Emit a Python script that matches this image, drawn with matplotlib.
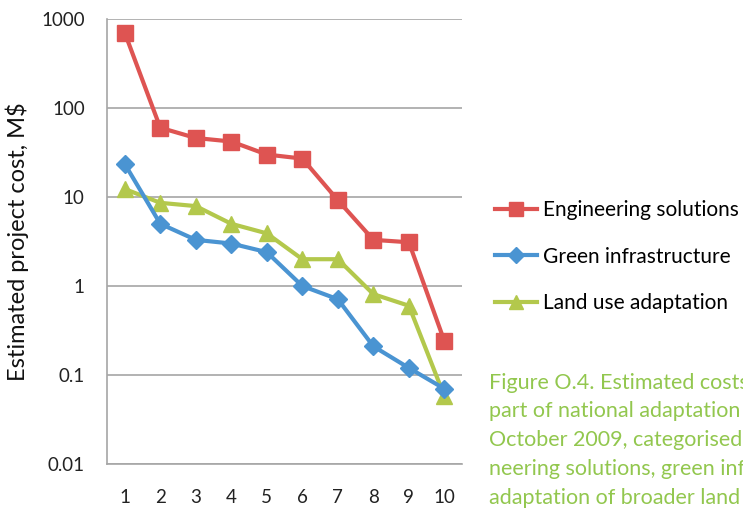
import matplotlib.pyplot as plt
from matplotlib.ticker import FixedLocator, FixedFormatter, NullLocator

plt.rcParams['font.family'] = ['Lato', 'DejaVu Sans']

# project rank on the x axis
projects = [1, 2, 3, 4, 5, 6, 7, 8, 9, 10]

# estimated cost, M$
engineering = [700, 60, 46, 42, 30, 27, 9.2, 3.3, 3.1, 0.24]
green_infra = [23.5, 5.0, 3.3, 3.0, 2.4, 1.0, 0.71, 0.21, 0.12, 0.07]
land_use = [12.3, 8.6, 7.9, 5.0, 3.9, 2.0, 2.0, 0.81, 0.6, 0.058]

y_ticks = [0.01, 0.1, 1, 10, 100, 1000]
y_tick_labels = ['0.01', '0.1', '1', '10', '100', '1000']

caption = ("Figure O.4. Estimated costs of projects proposed as\n"
           "part of national adaptation programmes of action as of\n"
           "October 2009, categorised into three groups: engi-\n"
           "neering solutions, green infrastructure, and\n"
           "adaptation of broader land use")

red = '#DE5452'
blue = '#4A94D2'
green = '#B3C84C'
grid_col = '#A6A6A6'

fig = plt.figure(figsize=(7.43, 5.09), dpi=100)
ax = fig.add_axes([0.144, 0.0884, 0.478, 0.8743])

ax.plot(projects, engineering, color=red, lw=3, marker='s', ms=12,
        label='Engineering solutions', zorder=3)
ax.plot(projects, green_infra, color=blue, lw=3, marker='D', ms=9,
        label='Green infrastructure', zorder=4)
ax.plot(projects, land_use, color=green, lw=3, marker='^', ms=12,
        label='Land use adaptation', zorder=3)

ax.set_yscale('log')
ax.set_ylim(0.01, 1000)
ax.set_xlim(0.5, 10.5)
ax.yaxis.set_major_locator(FixedLocator(y_ticks))
ax.yaxis.set_major_formatter(FixedFormatter(y_tick_labels))
ax.yaxis.set_minor_locator(NullLocator())
ax.set_xticks(projects)
ax.set_xticklabels([str(p) for p in projects])

ax.grid(axis='y', color=grid_col, lw=1.2)
ax.set_axisbelow(True)
for s in ['top', 'right']:
    ax.spines[s].set_visible(False)
for s in ['left', 'bottom']:
    ax.spines[s].set_color(grid_col)
    ax.spines[s].set_linewidth(1.2)
ax.tick_params(length=0, labelsize=13.5, colors='#222222')
ax.tick_params(axis='x', pad=18)
ax.tick_params(axis='y', pad=16)

fig.text(17 / 743, 0.525, 'Estimated project cost, M$', rotation=90,
         fontsize=17, color='#111111', ha='center', va='center')

fig.legend(loc='upper left', bbox_to_anchor=(495 / 743, 1 - 200 / 509),
           frameon=False, borderpad=0, borderaxespad=0,
           fontsize=15, handlelength=2.0, handletextpad=0.3, labelspacing=1.28,
           markerscale=0.85)

fig.text(489 / 743, 0.268, caption, color='#92C74E', fontsize=15.5, va='top',
         ha='left', linespacing=1.55)

fig.savefig('out.png', dpi=100)
